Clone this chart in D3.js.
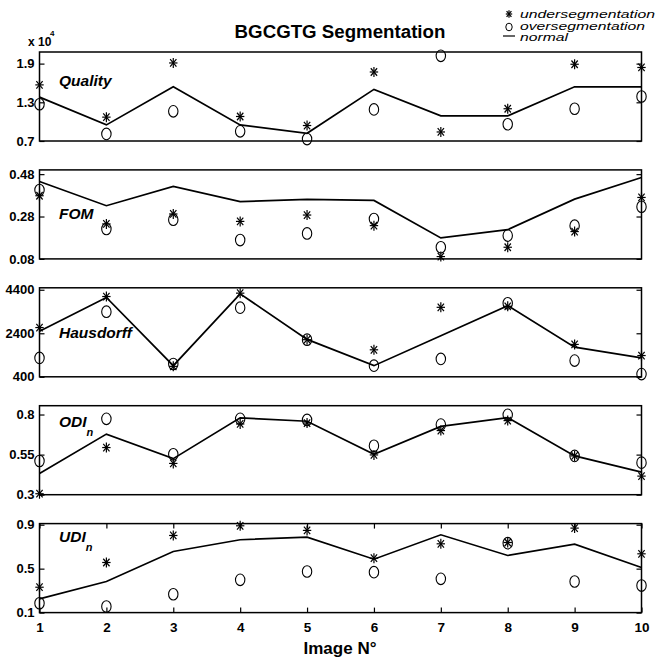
<!doctype html>
<html>
<head>
<meta charset="utf-8">
<script src="https://d3js.org/d3.v7.min.js"></script>
<style>
  body { margin: 0; background: #fff; }
  text { font-family: "Liberation Sans", Arial, sans-serif; fill: #000; }
</style>
</head>
<body>
<svg width="656" height="658"></svg>
<script>
// image index on the x axis
var images = [1, 2, 3, 4, 5, 6, 7, 8, 9, 10];

// Quality (x 10^4)
var qualityUnder  = [1.57, 1.07, 1.91, 1.08, 0.94, 1.77, 0.84, 1.20, 1.89, 1.84];
var qualityOver   = [1.27, 0.81, 1.16, 0.85, 0.73, 1.19, 2.02, 0.96, 1.20, 1.39];
var qualityNormal = [1.38, 0.95, 1.54, 0.95, 0.82, 1.50, 1.09, 1.09, 1.54, 1.54];

// FOM
var fomUnder  = [0.378, 0.245, 0.292, 0.257, 0.287, 0.237, 0.091, 0.135, 0.209, 0.370];
var fomOver   = [0.405, 0.221, 0.265, 0.169, 0.200, 0.268, 0.135, 0.190, 0.237, 0.326];
var fomNormal = [0.445, 0.331, 0.422, 0.350, 0.361, 0.356, 0.179, 0.218, 0.362, 0.464];

// Hausdorff
var hausUnder  = [2663, 4089, 880, 4244, 2105, 1640, 3593, 3640, 1888, 1377];
var hausOver   = [1268, 3392, 989, 3578, 2105, 912, 1222, 3779, 1144, 524];
var hausNormal = [2493, 4043, 912, 4213, 2120, 912, 2290, 3670, 1764, 1268];

// ODI_n
var odiUnder  = [0.306, 0.594, 0.495, 0.741, 0.747, 0.548, 0.700, 0.762, 0.542, 0.416];
var odiOver   = [0.510, 0.773, 0.552, 0.773, 0.766, 0.605, 0.737, 0.798, 0.542, 0.500];
var odiNormal = [0.432, 0.678, 0.525, 0.779, 0.758, 0.552, 0.726, 0.781, 0.542, 0.441];

// UDI_n
var udiUnder  = [0.331, 0.556, 0.802, 0.890, 0.848, 0.595, 0.726, 0.738, 0.869, 0.635];
var udiOver   = [0.185, 0.155, 0.267, 0.398, 0.474, 0.468, 0.407, 0.732, 0.383, 0.346];
var udiNormal = [0.225, 0.383, 0.656, 0.763, 0.787, 0.586, 0.808, 0.620, 0.723, 0.510];

// y tick labels per panel
var qualityTicks = [0.7, 1.3, 1.9];
var fomTicks = [0.08, 0.28, 0.48];
var hausTicks = [400, 2400, 4400];
var odiTicks = [0.3, 0.55, 0.8];
var udiTicks = [0.1, 0.5, 0.9];

var legendLabels = ["undersegmentation", "oversegmentation", "normal"];

var panels = [
  { name: "Quality", sub: null, under: qualityUnder, over: qualityOver, normal: qualityNormal, ticks: qualityTicks, domain: [0.7, 2.08], labelDy: 34 },
  { name: "FOM", sub: null, under: fomUnder, over: fomOver, normal: fomNormal, ticks: fomTicks, domain: [0.08, 0.50], labelDy: 49 },
  { name: "Hausdorff", sub: null, under: hausUnder, over: hausOver, normal: hausNormal, ticks: hausTicks, domain: [400, 4490], labelDy: 50 },
  { name: "ODI", sub: "n", under: odiUnder, over: odiOver, normal: odiNormal, ticks: odiTicks, domain: [0.3, 0.855], labelDy: 21 },
  { name: "UDI", sub: "n", under: udiUnder, over: udiOver, normal: udiNormal, ticks: udiTicks, domain: [0.1, 0.91], labelDy: 18.5 }
];

var svg = d3.select("svg");
var left = 39.5, right = 641.5, top0 = 52, step = 117.9, ph = 89;

var x = d3.scaleLinear().domain([1, 10]).range([left, right]);

// MATLAB style '*' marker
function star(g, cx, cy, rx, ry) {
  var s = g.append("g").attr("transform", "translate(" + cx + "," + cy + ")")
    .attr("stroke", "#000").attr("stroke-width", 1.2);
  s.append("line").attr("x1", 0).attr("y1", -ry).attr("x2", 0).attr("y2", ry);
  s.append("line").attr("x1", -rx).attr("y1", 0).attr("x2", rx).attr("y2", 0);
  s.append("line").attr("x1", -rx * 0.75).attr("y1", -ry * 0.75).attr("x2", rx * 0.75).attr("y2", ry * 0.75);
  s.append("line").attr("x1", -rx * 0.75).attr("y1", ry * 0.75).attr("x2", rx * 0.75).attr("y2", -ry * 0.75);
}

panels.forEach(function(p, i) {
  var top = top0 + step * i;
  var y = d3.scaleLinear().domain(p.domain).range([top + ph, top]);
  var g = svg.append("g");

  // y axes, ticks pointing inward on both sides
  var ya = g.append("g").attr("transform", "translate(" + left + ",0)")
    .call(d3.axisLeft(y).tickValues(p.ticks).tickFormat(String).tickSizeInner(-5).tickSizeOuter(0).tickPadding(5));
  var yb = g.append("g").attr("transform", "translate(" + right + ",0)")
    .call(d3.axisRight(y).tickValues(p.ticks).tickFormat("").tickSizeInner(-5).tickSizeOuter(0));
  [ya, yb].forEach(function(a) {
    a.select(".domain").remove();
    a.selectAll("line").attr("stroke-width", 1.2);
  });
  ya.selectAll("text").attr("font-family", "Liberation Sans, Arial, sans-serif")
    .attr("font-size", 13).attr("font-weight", "bold");

  if (i === panels.length - 1) {
    var xb = g.append("g").attr("transform", "translate(0," + (top + ph) + ")")
      .call(d3.axisBottom(x).tickValues(images).tickFormat(String).tickSizeInner(-5).tickSizeOuter(0).tickPadding(10));
    var xt = g.append("g").attr("transform", "translate(0," + top + ")")
      .call(d3.axisTop(x).tickValues(images).tickFormat("").tickSizeInner(-5).tickSizeOuter(0));
    [xb, xt].forEach(function(a) {
      a.select(".domain").remove();
      a.selectAll("line").attr("stroke-width", 1.2);
    });
    xb.selectAll("text").attr("font-family", "Liberation Sans, Arial, sans-serif")
      .attr("font-size", 13.5).attr("font-weight", "bold");
  }

  // box
  g.append("rect").attr("x", left).attr("y", top).attr("width", right - left).attr("height", ph)
    .attr("fill", "none").attr("stroke", "#000").attr("stroke-width", 1.5);

  // normal line
  var line = d3.line().x(function(d, j) { return x(images[j]); }).y(function(d) { return y(d); });
  g.append("path").datum(p.normal).attr("d", line)
    .attr("fill", "none").attr("stroke", "#000").attr("stroke-width", 1.7);

  // oversegmentation circles
  g.selectAll("ellipse.over").data(p.over).enter().append("ellipse")
    .attr("class", "over")
    .attr("cx", function(d, j) { return x(images[j]); })
    .attr("cy", function(d) { return y(d); })
    .attr("rx", 4.7).attr("ry", 5.8)
    .attr("fill", "none").attr("stroke", "#000").attr("stroke-width", 1.1);

  // undersegmentation stars
  p.under.forEach(function(d, j) { star(g, x(images[j]), y(d), 4.2, 5); });

  // panel label
  var t = g.append("text").attr("x", 59).attr("y", top + p.labelDy)
    .attr("font-size", 15.5).attr("font-weight", "bold").attr("font-style", "italic")
    .text(p.name);
  if (p.sub) {
    t.append("tspan").attr("dy", 9).attr("font-size", 11).text(p.sub);
  }
});

// exponent
svg.append("text").attr("x", 28).attr("y", 46).attr("font-size", 12).attr("font-weight", "bold").text("x 10");
svg.append("text").attr("x", 50).attr("y", 36).attr("font-size", 8).attr("font-weight", "bold").text("4");

// title
svg.append("text").attr("x", 340).attr("y", 38).attr("text-anchor", "middle")
  .attr("font-size", 18.7).attr("font-weight", "bold").text("BGCGTG Segmentation");

// x label
svg.append("text").attr("x", 340).attr("y", 654).attr("text-anchor", "middle")
  .attr("font-size", 17).attr("font-weight", "bold").text("Image N\u00b0");

// legend
var lg = svg.append("g");
var legY = [18, 30, 41];
var legW = [135, 125, 48];
star(lg, 509, 14, 3.2, 3.8);
lg.append("ellipse").attr("cx", 509).attr("cy", 27).attr("rx", 3.2).attr("ry", 3.8)
  .attr("fill", "none").attr("stroke", "#000").attr("stroke-width", 1);
lg.append("line").attr("x1", 503).attr("x2", 515).attr("y1", 36).attr("y2", 36)
  .attr("stroke", "#000").attr("stroke-width", 1.2);
legendLabels.forEach(function(s, k) {
  lg.append("text").attr("x", 520).attr("y", legY[k])
    .attr("font-size", 11.5).attr("font-style", "italic")
    .attr("textLength", legW[k]).attr("lengthAdjust", "spacingAndGlyphs")
    .text(s);
});
</script>
</body>
</html>
